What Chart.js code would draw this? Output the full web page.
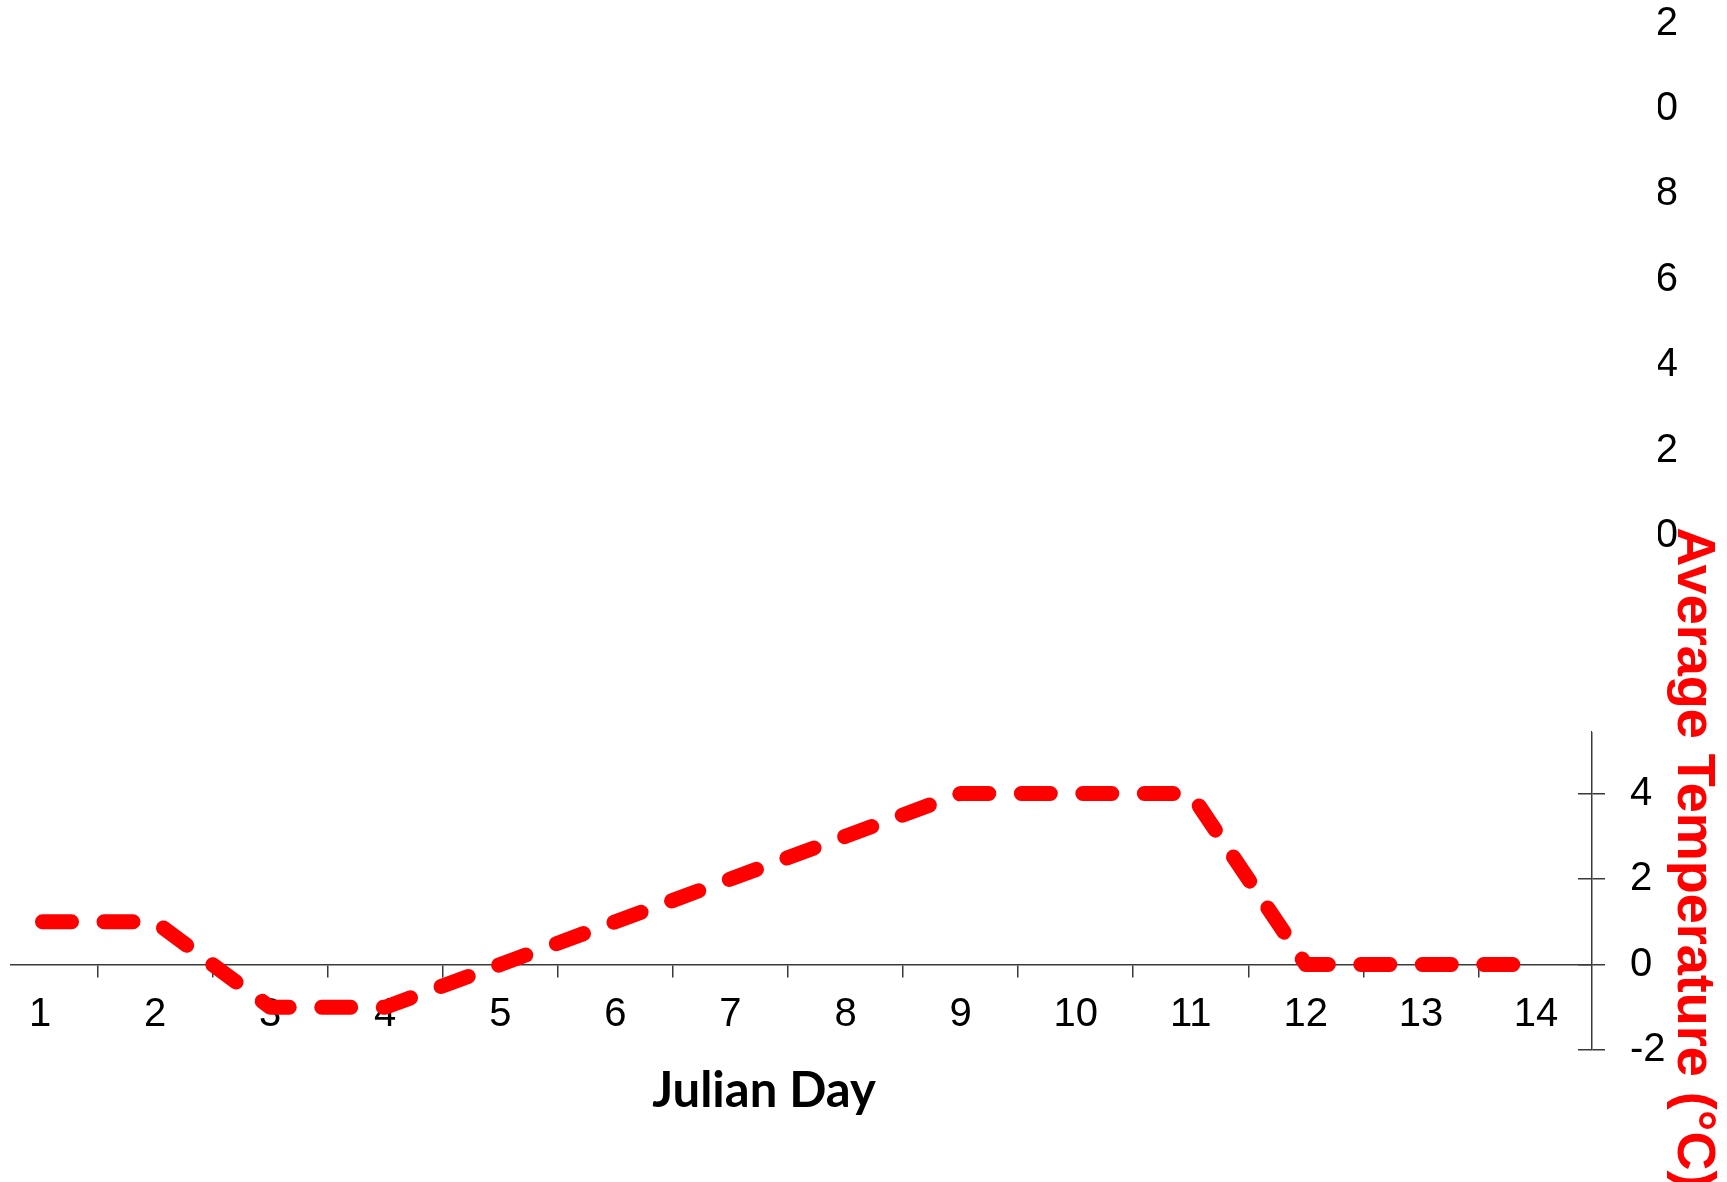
<!DOCTYPE html>
<html>
<head>
<meta charset="utf-8">
<script src="https://cdn.jsdelivr.net/npm/chart.js@4.4.1/dist/chart.umd.min.js"></script>
<style>
  html, body { margin: 0; padding: 0; background: #ffffff; }
  #wrap { width: 1727px; height: 1182px; }
</style>
</head>
<body>
<div id="wrap"><canvas id="c" width="1727" height="1182"></canvas></div>
<script>
// ---- data ----
const days = [1, 2, 3, 4, 5, 6, 7, 8, 9, 10, 11, 12, 13, 14];
const dayLabels = ['1', '2', '3', '4', '5', '6', '7', '8', '9', '10', '11', '12', '13', '14'];
const avgTemp = [1, 1, -1, -1, 0, 1, 2, 3, 4, 4, 4, 0, 0, 0];
const dayBoundaries = [1.5, 2.5, 3.5, 4.5, 5.5, 6.5, 7.5, 8.5, 9.5, 10.5, 11.5, 12.5, 13.5];
const tempTicks = [-2, 0, 2, 4];
const tempTickLabels = ['-2', '0', '2', '4'];
const hiddenTicks = [0, 2, 4, 6, 8, 10, 12];
const hiddenTickLabels = ['0', '2', '4', '6', '8', '10', '12'];

// ---- styling helpers ----
const AXIS = '#3a3a3a';
Chart.defaults.font.family = "'Liberation Sans', Arial, sans-serif";
Chart.defaults.color = '#000000';

function fitTo(w) {
  return (s) => {
    if (w !== undefined) s.width = w;
    s.paddingTop = 0; s.paddingBottom = 0; s.paddingLeft = 0; s.paddingRight = 0;
  };
}
function setTicks(vals) {
  return (s) => { s.ticks = vals.map(v => ({ value: v })); };
}
const X_MIN = 0.748, X_MAX = 14.487;

function blank(extra) {
  return Object.assign({
    type: 'linear', display: true, min: 0, max: 1,
    grid: { display: false, drawTicks: false },
    border: { display: false },
    ticks: { display: false }
  }, extra);
}

// hides the left part of the hidden-axis labels (they were covered in the original)
const occlude = {
  id: 'occlude',
  beforeDraw(chart) {
    const s = chart.scales.hidden;
    const ctx = chart.ctx;
    ctx.save();
    ctx.beginPath();
    ctx.rect(0, 0, chart.width, chart.height);
    ctx.rect(s.left, s.top, 66, s.bottom - s.top);
    ctx.clip('evenodd');
  },
  beforeDatasetsDraw(chart) {
    chart.ctx.restore();
  }
};
const titleShift = {
  id: 'titleShift',
  afterLayout(chart) {
    chart.scales.xl.right -= 75;
  }
};

new Chart(document.getElementById('c'), {
  type: 'line',
  data: {
    datasets: [{
      label: 'Average Temperature (°C)',
      data: days.map((d, i) => ({ x: d, y: avgTemp[i] })),
      xAxisID: 'x',
      yAxisID: 'temp',
      borderColor: '#ff0000',
      borderWidth: 15,
      borderDash: [29, 32.5],
      borderDashOffset: -2.5,
      borderCapStyle: 'round',
      borderJoinStyle: 'round',
      pointRadius: 0,
      pointHoverRadius: 0,
      fill: false,
      tension: 0
    }]
  },
  options: {
    responsive: false,
    animation: false,
    devicePixelRatio: 1,
    layout: { padding: { left: 11, top: 0, right: 0, bottom: 132 } },
    plugins: { legend: { display: false }, title: { display: false }, tooltip: { enabled: false } },
    scales: {
      x: {
        type: 'linear', axis: 'x', position: { temp: 0 },
        min: X_MIN, max: X_MAX,
        afterBuildTicks: setTicks(dayBoundaries),
        afterFit: fitTo(),
        grid: { display: true, drawOnChartArea: false, drawTicks: true, tickLength: 12, color: AXIS, lineWidth: 1.5 },
        border: { display: true, color: AXIS, width: 1.5 },
        ticks: { display: false, autoSkip: false }
      },
      xl: {
        type: 'linear', axis: 'x', position: { temp: 0 },
        min: X_MIN, max: X_MAX,
        afterBuildTicks: setTicks(days),
        afterFit: fitTo(),
        grid: { display: false, drawTicks: false },
        border: { display: false },
        ticks: {
          display: true, padding: 26, autoSkip: false, maxRotation: 0, minRotation: 0,
          font: { size: 40 }, color: '#000000',
          callback: (v, i) => dayLabels[i]
        },
        title: {
          display: true, text: 'Julian Day', color: '#000000',
          font: { family: "Lato, 'Open Sans', sans-serif", size: 49, weight: 'bold', lineHeight: 1.1 },
          padding: { top: 0, bottom: 4 }
        }
      },
      hidden: {
        type: 'linear', axis: 'y', position: 'right', stack: 's1', stackWeight: 732, weight: 1,
        display: true, min: -4.59, max: 12.55,
        afterBuildTicks: setTicks(hiddenTicks),
        afterFit: fitTo(86),
        grid: { display: false, drawTicks: false },
        border: { display: false },
        ticks: {
          display: true, crossAlign: 'far', padding: 38.5, autoSkip: false,
          font: { size: 40 }, color: '#000000',
          callback: (v, i) => hiddenTickLabels[i]
        }
      },
      temp: {
        type: 'linear', axis: 'y', position: 'right', stack: 's1', stackWeight: 318, weight: 1,
        display: true, min: -2, max: 5.44,
        afterBuildTicks: setTicks(tempTicks),
        afterFit: fitTo(86),
        grid: { display: true, drawOnChartArea: true, drawTicks: true, tickLength: 13, color: AXIS, lineWidth: 1.5 },
        border: {
          display: true, color: AXIS, width: 1.5,
          dash: (c) => c.type === 'tick' ? [0, c.chart.chartArea.width - 14, 14, 40] : []
        },
        ticks: {
          display: true, padding: 25, autoSkip: false,
          font: { size: 40 }, color: '#000000',
          callback: (v, i) => tempTickLabels[i]
        }
      },
      titlePad: blank({ axis: 'y', position: 'right', stack: 's2', stackWeight: 666, weight: 2, afterFit: fitTo(49) }),
      titleAxis: blank({ axis: 'y', position: 'right', stack: 's2', stackWeight: 384, weight: 2, afterFit: fitTo(49),
        title: {
          display: true, text: 'Average Temperature (°C)', color: '#ff0000',
          font: { family: "'Liberation Sans', Arial, sans-serif", size: 54, weight: 'bold', lineHeight: 1.2 },
          padding: { top: 2, bottom: 4 }
        } })
    }
  },
  plugins: [occlude, titleShift]
});
</script>
</body>
</html>
